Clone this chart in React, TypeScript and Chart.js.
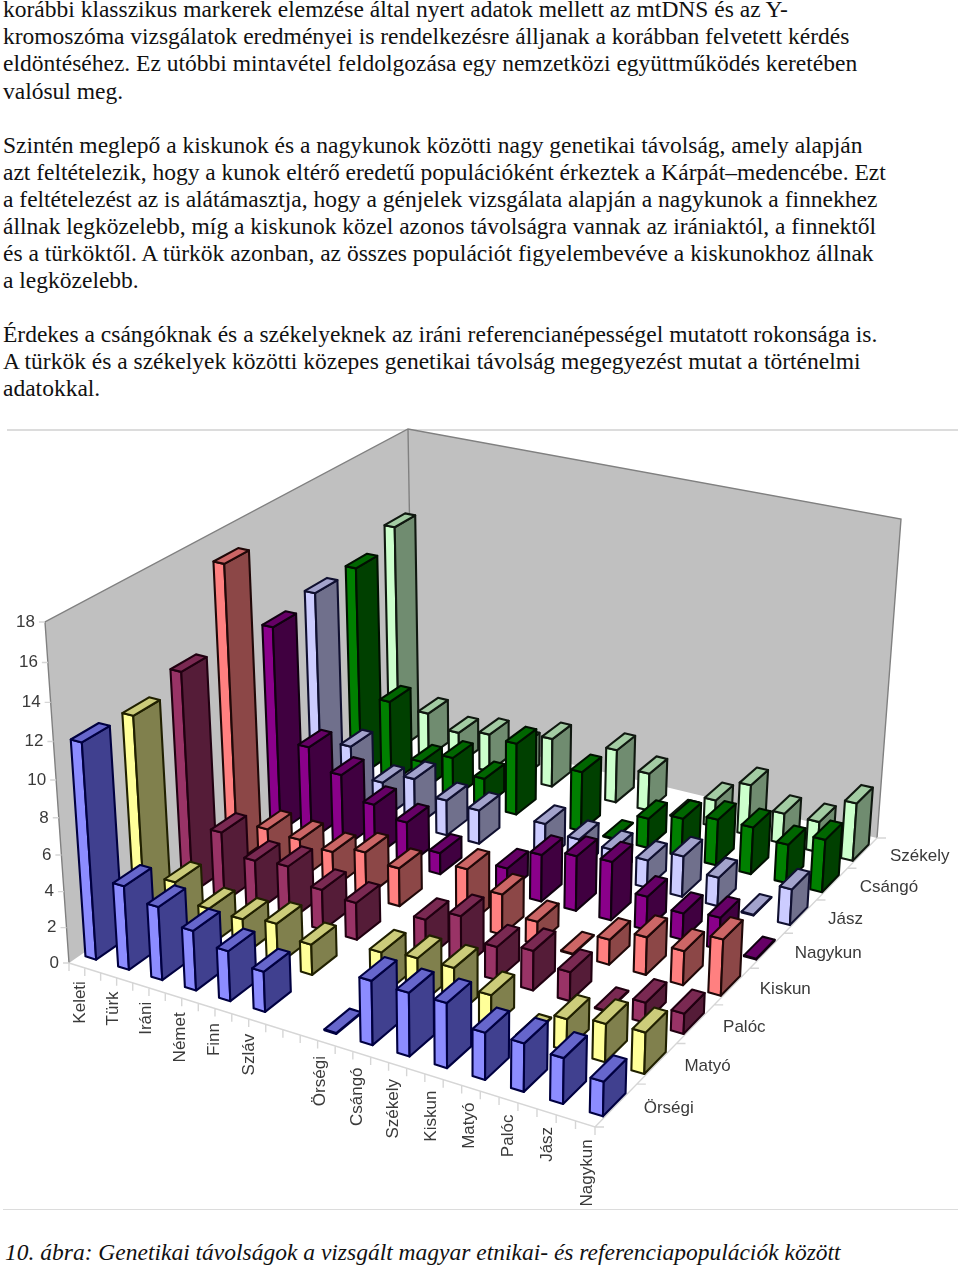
import React, { useEffect, useRef } from "react";
import { Chart, BarController, registerables } from "chart.js";

Chart.register(...registerables);

const columns = ["Keleti", "Türk", "Iráni", "Német", "Finn", "Szláv", "", "Örségi", "Csángó", "Székely", "Kiskun", "Matyó", "Palóc", "Jász", "Nagykun"];
const rowNames = ["Örségi", "Matyó", "Palóc", "Kiskun", "Nagykun", "Jász", "Csángó", "Székely"];
const yTicks = [0, 2, 4, 6, 8, 10, 12, 14, 16, 18];

const orsegi = [11.8, 4.65, 4.05, 3.3, 2.75, 2.2, null, 0.05, 3.45, 3.4, 3.45, 2.5, 2.55, 2.4, 1.8];
const matyo = [11.6, 3.0, 2.05, 2.0, 2.3, 1.7, null, 2.4, 2.65, 2.7, 1.8, 0.05, 1.7, 2.05, 2.2];
const paloc = [12.4, 4.0, 2.9, 3.1, 2.3, 2.1, null, 2.25, 3.0, 1.85, 2.2, 1.6, 0.05, 1.1, 1.1];
const kiskun = [16.7, 2.4, 2.3, 2.1, 2.6, 2.2, null, 3.2, 2.3, 1.3, 0.05, 1.4, 2.1, 1.9, 3.1];
const nagykun = [11.9, 5.5, 4.35, 3.1, 2.55, 1.25, null, 1.4, 2.7, 3.15, 3.35, 1.9, 1.5, 1.8, 0.05];
const jasz = [12.4, 3.9, 2.2, 2.9, 2.1, 2.0, null, 2.2, 1.8, 1.7, 1.6, 2.35, 1.65, 0.05, 2.05];
const csango = [12.45, 5.0, 1.8, 2.5, 1.7, 4.3, null, 3.55, 0.05, 1.75, 2.25, 2.7, 2.75, 2.25, 3.05];
const szekely = [13.5, 2.7, 1.95, 2.3, 2.0, 2.95, null, 3.2, 2.25, 0.05, 1.6, 3.0, 1.8, 1.8, 3.4];
const rowValues = [orsegi, matyo, paloc, kiskun, nagykun, jasz, csango, szekely];

const lightFaces = ["#8c8cff", "#ffff99", "#993366", "#ff8080", "#8a008a", "#ccccff", "#008000", "#ccffcc"];
const darkFaces = ["#40408f", "#80804d", "#551c38", "#8c4747", "#400040", "#70708c", "#004000", "#708c70"];
const topFaces = ["#6666cc", "#cccc7a", "#7a2952", "#cc6666", "#660066", "#a3a3cc", "#006600", "#a3cca3"];
const edgeColors = ["#000040", "#202000", "#200010", "#200808", "#100010", "#101030", "#001000", "#101810"];

const pageLines = [
  [9, "korábbi klasszikus markerek elemzése által nyert adatok mellett az mtDNS és az Y-"],
  [36, "kromoszóma vizsgálatok eredményei is rendelkezésre álljanak a korábban felvetett kérdés"],
  [63, "eldöntéséhez. Ez utóbbi mintavétel feldolgozása egy nemzetközi együttműködés keretében"],
  [91, "valósul meg."],
  [145, "Szintén meglepő a kiskunok és a nagykunok közötti nagy genetikai távolság, amely alapján"],
  [172, "azt feltételezik, hogy a kunok eltérő eredetű populációként érkeztek a Kárpát–medencébe. Ezt"],
  [199, "a feltételezést az is alátámasztja, hogy a génjelek vizsgálata alapján a nagykunok a finnekhez"],
  [226, "állnak legközelebb, míg a kiskunok közel azonos távolságra vannak az irániaktól, a finnektől"],
  [253, "és a türköktől. A türkök azonban, az összes populációt figyelembevéve a kiskunokhoz állnak"],
  [280, "a legközelebb."],
  [334, "Érdekes a csángóknak és a székelyeknek az iráni referencianépességel mutatott rokonsága is."],
  [361, "A türkök és a székelyek közötti közepes genetikai távolság megegyezést mutat a történelmi"],
  [388, "adatokkal."],
];
const captionText = "10. ábra: Genetikai távolságok a vizsgált magyar etnikai- és referenciapopulációk között";

type P = [number, number];
const CANVAS_TOP = 420;

function makeHomography(p0: P, p1: P, p2: P, p3: P) {
  const dx1 = p1[0] - p2[0], dx2 = p3[0] - p2[0], sx = p0[0] - p1[0] + p2[0] - p3[0];
  const dy1 = p1[1] - p2[1], dy2 = p3[1] - p2[1], sy = p0[1] - p1[1] + p2[1] - p3[1];
  const den = dx1 * dy2 - dx2 * dy1;
  const g = (sx * dy2 - dx2 * sy) / den;
  const h = (dx1 * sy - sx * dy1) / den;
  const a = p1[0] - p0[0] + g * p1[0], b = p3[0] - p0[0] + h * p3[0];
  const d = p1[1] - p0[1] + g * p1[1], e = p3[1] - p0[1] + h * p3[1];
  return (u: number, v: number): P => {
    const w = g * u + h * v + 1;
    return [(a * u + b * v + p0[0]) / w, (d * u + e * v + p0[1]) / w];
  };
}

const floor = makeHomography([69, 963], [595, 1127], [877, 838], [413, 726]);
const ceiling = makeHomography([45, 622], [603, 755], [901, 519], [408, 429]);
const R = 1.079;

// t is the fraction of the vertical scale
function project(u: number, v: number, t: number): P {
  const a = floor(u, v), b = ceiling(u, v);
  const s = t / (t + (1 - t) * R);
  return [a[0] + (b[0] - a[0]) * s, a[1] + (b[1] - a[1]) * s - CANVAS_TOP];
}

// the bars and their labels sit on a slightly wider span than the axis line
const spread = (u: number) => u * 1.033 - 0.0131;

function poly(ctx: CanvasRenderingContext2D, pts: P[], fill: string | null, stroke: string | null, lw = 1) {
  ctx.beginPath();
  pts.forEach((p, i) => (i ? ctx.lineTo(p[0], p[1]) : ctx.moveTo(p[0], p[1])));
  ctx.closePath();
  if (fill) { ctx.fillStyle = fill; ctx.fill(); }
  if (stroke) { ctx.strokeStyle = stroke; ctx.lineWidth = lw; ctx.lineJoin = "round"; ctx.stroke(); }
}

const BAR_U = 0.34, BAR_V = 0.54;

class Bar3DController extends BarController {
  draw() {
    const meta: any = this.getMeta();
    const ctx = this.chart.ctx;
    const xs: any = meta.xScale, ys: any = meta.yScale;
    const nCols = (this.chart.data.labels as string[]).length;
    const nRows = this.chart.data.datasets.length;
    const r = this.index;
    const ds: any = this.getDataset();
    ctx.save();
    for (let i = 0; i < nCols; i++) {
      const parsed: any = this.getParsed(i);
      if (!parsed || parsed.y == null || isNaN(parsed.y)) continue;
      const uc = spread((xs.getPixelForValue(i) - xs.left) / xs.width);
      const t = (ys.bottom - ys.getPixelForValue(parsed.y)) / ys.height;
      const vc = (r + 0.5) / nRows;
      const du = BAR_U / nCols / 2, dv = BAR_V / nRows / 2;
      const u0 = uc - du, u1 = uc + du, v0 = vc - dv, v1 = vc + dv;
      const A = project(u0, v0, 0), B = project(u1, v0, 0), C = project(u1, v1, 0);
      const At = project(u0, v0, t), Bt = project(u1, v0, t), Ct = project(u1, v1, t), Dt = project(u0, v1, t);
      const lw = 2.1;
      poly(ctx, [A, B, Bt, At], ds.lightFace, ds.edge, lw);
      poly(ctx, [B, C, Ct, Bt], ds.darkFace, ds.edge, lw);
      poly(ctx, [At, Bt, Ct, Dt], ds.topFace, ds.edge, lw);
    }
    ctx.restore();
  }
}
(Bar3DController as any).id = "bar3d";
(Bar3DController as any).defaults = { ...(BarController as any).defaults };
Chart.register(Bar3DController as any);

const AXIS_FONT = '17px "Liberation Sans"';
const AXIS_COLOR = "#3a3a3a";
const TICK_COLOR = "#d6d6d6";

const wallsPlugin = {
  id: "walls3d",
  beforeDatasetsDraw(chart: any) {
    const ctx: CanvasRenderingContext2D = chart.ctx;
    const y = chart.scales.y;
    ctx.save();
    poly(ctx, [project(0, 0, 0), project(0, 1, 0), project(0, 1, 1), project(0, 0, 1)], "#c0c0c0", null);
    poly(ctx, [project(0, 1, 0), project(1, 1, 0), project(1, 1, 1), project(0, 1, 1)], "#c0c0c0", null);
    ctx.strokeStyle = "#808080";
    ctx.lineWidth = 1.4;
    ctx.beginPath();
    const path: P[] = [project(0, 0, 0), project(0, 0, 1), project(0, 1, 1), project(1, 1, 1), project(1, 1, 0)];
    path.forEach((p, i) => (i ? ctx.lineTo(p[0], p[1]) : ctx.moveTo(p[0], p[1])));
    const c0 = project(0, 1, 0), c1 = project(0, 1, 1);
    ctx.moveTo(c0[0], c0[1]); ctx.lineTo(c1[0], c1[1]);
    ctx.stroke();

    // floor edges
    ctx.strokeStyle = TICK_COLOR;
    ctx.lineWidth = 1.4;
    ctx.beginPath();
    const f0 = project(0, 0, 0), f1 = project(1, 0, 0), f2 = project(1, 1, 0);
    ctx.moveTo(f0[0], f0[1]); ctx.lineTo(f1[0], f1[1]); ctx.lineTo(f2[0], f2[1]);
    const nCols = chart.data.labels.length, nRows = chart.data.datasets.length;
    for (let i = 0; i <= nCols * 2; i++) {
      const p = project(i / (nCols * 2), 0, 0);
      ctx.moveTo(p[0], p[1]); ctx.lineTo(p[0], p[1] + 8);
    }
    for (let j = 0; j <= nRows; j++) {
      const p = project(1, j / nRows, 0);
      ctx.moveTo(p[0], p[1]); ctx.lineTo(p[0] + 9, p[1]);
    }
    y.ticks.forEach((tk: any) => {
      const t = (y.bottom - y.getPixelForValue(tk.value)) / y.height;
      const p = project(0, 0, t);
      ctx.moveTo(p[0], p[1]); ctx.lineTo(p[0] - 6, p[1]);
    });
    ctx.stroke();

    // value labels
    ctx.font = AXIS_FONT;
    ctx.fillStyle = AXIS_COLOR;
    ctx.textAlign = "right";
    ctx.textBaseline = "middle";
    y.ticks.forEach((tk: any) => {
      const t = (y.bottom - y.getPixelForValue(tk.value)) / y.height;
      const p = project(0, 0, t);
      ctx.fillText(String(tk.value), p[0] - 10, p[1]);
    });

    // column labels
    const x = chart.scales.x;
    chart.data.labels.forEach((lab: string, i: number) => {
      if (!lab) return;
      const u = spread((x.getPixelForValue(i) - x.left) / x.width);
      const p = project(u, 0, 0);
      ctx.save();
      ctx.translate(p[0] + 1, p[1] + 15);
      ctx.rotate(-Math.PI / 2);
      ctx.textAlign = "right";
      ctx.textBaseline = "middle";
      ctx.fillText(lab, 0, 0);
      ctx.restore();
    });

    // row labels
    ctx.textAlign = "left";
    chart.data.datasets.forEach((ds: any, j: number) => {
      const p = project(1, (j + 0.5) / nRows, 0);
      ctx.fillText(ds.label, p[0] + 27.5, p[1] + 3);
    });
    ctx.restore();
  },
};

export default function App() {
  const ref = useRef<HTMLCanvasElement>(null);
  useEffect(() => {
    const chart = new Chart(ref.current as HTMLCanvasElement, {
      type: "bar3d" as any,
      data: {
        labels: columns,
        datasets: rowNames.map((name, i) => ({
          label: name,
          data: rowValues[i],
          lightFace: lightFaces[i],
          darkFace: darkFaces[i],
          topFace: topFaces[i],
          edge: edgeColors[i],
        })) as any,
      },
      options: {
        animation: false,
        responsive: false,
        events: [],
        layout: { padding: 0 },
        plugins: { legend: { display: false }, tooltip: { enabled: false }, title: { display: false } },
        scales: {
          x: { type: "category", display: false, offset: true },
          y: {
            type: "linear",
            display: false,
            min: yTicks[0],
            max: yTicks[yTicks.length - 1],
            ticks: { stepSize: 2 },
          },
        },
      },
      plugins: [wallsPlugin],
    } as any);
    return () => chart.destroy();
  }, []);

  const textStyle = (top: number): React.CSSProperties => ({
    position: "absolute",
    left: 3,
    top: top - 14,
    height: 28,
    font: '23.5px/28px "Liberation Serif"',
    whiteSpace: "nowrap",
    color: "#111",
  });

  return (
    <div style={{ position: "absolute", left: 0, top: 0, width: 960, height: 1268, background: "#fff", overflow: "hidden" }}>
      {pageLines.map(([top, text]) => (
        <div key={String(top)} style={textStyle(top as number)}>{text}</div>
      ))}
      <div style={{ position: "absolute", left: 7, top: 429, width: 951, height: 2, background: "#dcdcdc" }} />
      <canvas ref={ref} width={960} height={790} style={{ position: "absolute", left: 0, top: CANVAS_TOP, filter: "blur(0.5px)" }} />
      <div style={{ position: "absolute", left: 3, top: 1209, width: 955, height: 1, background: "#dcdcdc" }} />
      <div style={{ ...textStyle(1252), left: 5, fontStyle: "italic" }}>{captionText}</div>
    </div>
  );
}
